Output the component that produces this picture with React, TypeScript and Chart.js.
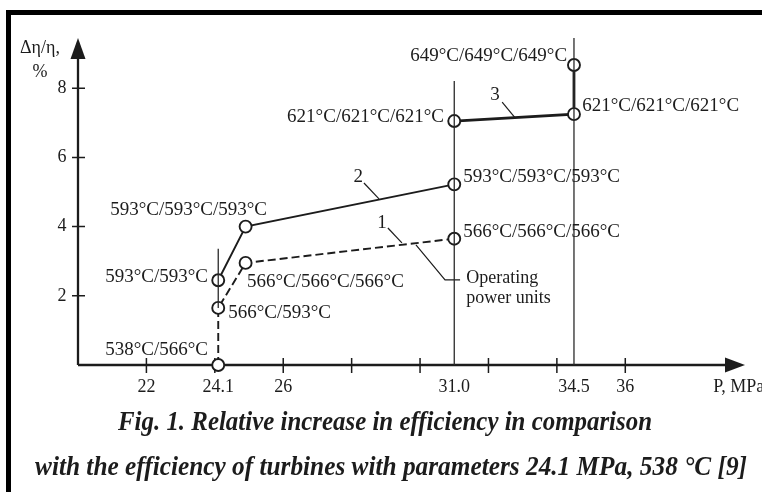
import React, { useEffect, useRef } from "react";
import { Chart, registerables } from "chart.js";

Chart.register(...registerables);

// ---- data ----
// Series 1 (dashed): 538/566 -> 566/593 -> 566/566/566 -> 566/566/566 @31
const s1X = [24.1, 24.1, 24.9, 31.0];
const s1Y = [0, 1.65, 2.95, 3.65];
// Series 2 (solid)
const s2X = [24.1, 24.9, 31.0];
const s2Y = [2.45, 4.0, 5.22];
// Series 3 (thick)
const s3X = [31.0, 34.5, 34.5];
const s3Y = [7.05, 7.25, 8.67];

// Thin vertical reference lines
const refLines = [
  { x: 31.0, y0: 0, y1: 8.21 },
  { x: 34.5, y0: 0, y1: 9.45 },
  { x: 24.1, y0: 1.65, y1: 3.36 },
];

const xTickMarks = [22, 24, 26, 28, 30, 32, 34, 36];
const xTickLabels = ["22", "24.1", "26", "31.0", "34.5", "36"];
const xTickLabelValues = [22, 24.1, 26, 31.0, 34.5, 36];
const yTickValues = [2, 4, 6, 8];

const X_MIN = 20;
const X_MAX = 39.5;
const Y_MIN = 0;
const Y_MAX = 9.45;

// annotation texts
const annTexts = [
  "649°C/649°C/649°C",
  "621°C/621°C/621°C",
  "621°C/621°C/621°C",
  "593°C/593°C/593°C",
  "566°C/566°C/566°C",
  "593°C/593°C/593°C",
  "593°C/593°C",
  "566°C/566°C/566°C",
  "566°C/593°C",
  "538°C/566°C",
  "Operating",
  "power units",
];
const annX = [34.3, 30.7, 34.74, 31.26, 31.26, 20.94, 23.8, 24.94, 24.39, 23.8, 31.35, 31.35];
const annY = [8.93, 7.17, 7.49, 5.43, 3.84, 4.48, 2.54, 2.4, 1.5, 0.43, 2.51, 1.94];
const annAlign = ["right", "right", "left", "left", "left", "left", "right", "left", "left", "right", "left", "left"];

const curveNames = ["1", "2", "3"];
const curveNameX = [28.89, 28.19, 32.19];
const curveNameY = [4.1, 5.43, 7.8];
const leaders = [
  [[29.06, 3.96], [29.47, 3.53]],
  [[28.36, 5.26], [28.8, 4.8]],
  [[32.4, 7.6], [32.78, 7.14]],
  [[29.88, 3.47], [30.73, 2.46], [31.17, 2.46]],
];

const captionLines = [
  "Fig. 1. Relative increase in efficiency in comparison",
  "with the efficiency of turbines with parameters 24.1 MPa, 538 °C [9]",
];

const SERIF = "'Liberation Serif', 'Times New Roman', serif";
const INK = "#1c1c1c";

const toPts = (xs: number[], ys: number[]) => xs.map((x, i) => ({ x, y: ys[i] }));

const overlayPlugin = {
  id: "overlay",
  beforeDatasetsDraw(chart: any) {
    const { ctx, scales } = chart;
    const xs = scales.x;
    const ys = scales.y;
    const x0 = xs.getPixelForValue(X_MIN);
    const y0 = ys.getPixelForValue(0);
    const xEnd = xs.getPixelForValue(X_MAX);
    const yEnd = ys.getPixelForValue(Y_MAX);
    ctx.save();
    ctx.strokeStyle = INK;
    ctx.fillStyle = INK;
    ctx.lineWidth = 2.3;
    ctx.beginPath();
    ctx.moveTo(x0, y0);
    ctx.lineTo(xEnd - 16, y0);
    ctx.moveTo(x0, y0);
    ctx.lineTo(x0, yEnd + 16);
    ctx.stroke();
    // arrows
    ctx.beginPath();
    ctx.moveTo(xEnd, y0);
    ctx.lineTo(xEnd - 20, y0 - 7.5);
    ctx.lineTo(xEnd - 20, y0 + 7.5);
    ctx.closePath();
    ctx.fill();
    ctx.beginPath();
    ctx.moveTo(x0, yEnd);
    ctx.lineTo(x0 - 7.5, yEnd + 21);
    ctx.lineTo(x0 + 7.5, yEnd + 21);
    ctx.closePath();
    ctx.fill();
    // ticks
    ctx.lineWidth = 1.5;
    ctx.beginPath();
    xTickMarks.forEach((v) => {
      const px = xs.getPixelForValue(v);
      ctx.moveTo(px, y0 - 7);
      ctx.lineTo(px, y0 + 8);
    });
    yTickValues.forEach((v) => {
      const py = ys.getPixelForValue(v);
      ctx.moveTo(x0 - 6, py);
      ctx.lineTo(x0 + 7, py);
    });
    ctx.stroke();
    // leaders
    ctx.lineWidth = 1.2;
    leaders.forEach((ln) => {
      ctx.beginPath();
      ln.forEach((p, i) => {
        const px = xs.getPixelForValue(p[0]);
        const py = ys.getPixelForValue(p[1]);
        if (i === 0) ctx.moveTo(px, py);
        else ctx.lineTo(px, py);
      });
      ctx.stroke();
    });
    ctx.restore();
  },
  afterDraw(chart: any) {
    const { ctx, scales } = chart;
    const xs = scales.x;
    const ys = scales.y;
    const x0 = xs.getPixelForValue(X_MIN);
    const y0 = ys.getPixelForValue(0);
    ctx.save();
    ctx.fillStyle = INK;
    ctx.textBaseline = "middle";
    // x tick labels
    ctx.font = `18px ${SERIF}`;
    ctx.textAlign = "center";
    xTickLabels.forEach((t, i) => {
      ctx.fillText(t, xs.getPixelForValue(xTickLabelValues[i]), y0 + 22);
    });
    ctx.textAlign = "left";
    ctx.fillText("P, MPa", xs.getPixelForValue(38.57), y0 + 22);
    // y tick labels
    ctx.textAlign = "center";
    yTickValues.forEach((v) => {
      ctx.fillText(String(v), x0 - 16, ys.getPixelForValue(v));
    });
    // y axis title
    ctx.textAlign = "left";
    ctx.fillText("Δη/η,", x0 - 58, ys.getPixelForValue(9.14));
    ctx.textAlign = "center";
    ctx.fillText("%", x0 - 38, ys.getPixelForValue(8.47));
    // annotations
    annTexts.forEach((t, i) => {
      ctx.textAlign = annAlign[i] as CanvasTextAlign;
      ctx.font = i >= 10 ? `18px ${SERIF}` : `19px ${SERIF}`;
      ctx.fillText(t, xs.getPixelForValue(annX[i]), ys.getPixelForValue(annY[i]));
    });
    ctx.font = `19px ${SERIF}`;
    ctx.textAlign = "center";
    curveNames.forEach((t, i) => {
      ctx.fillText(t, xs.getPixelForValue(curveNameX[i]), ys.getPixelForValue(curveNameY[i]));
    });
    // caption
    ctx.font = `italic bold 27px ${SERIF}`;
    ctx.textBaseline = "alphabetic";
    ctx.textAlign = "left";
    const capCenters = [385, 391];
    const capWidths = [534, 712];
    const capBase = [430, 475];
    captionLines.forEach((t, i) => {
      const w = ctx.measureText(t).width;
      const s = capWidths[i] / w;
      ctx.save();
      ctx.translate(capCenters[i] - capWidths[i] / 2, capBase[i]);
      ctx.scale(s, 1);
      ctx.fillText(t, 0, 0);
      ctx.restore();
    });
    ctx.restore();
  },
};

export default function App() {
  const ref = useRef<HTMLCanvasElement | null>(null);
  useEffect(() => {
    if (!ref.current) return;
    const markerCommon = {
      pointRadius: 6,
      pointBorderWidth: 1.9,
      pointBackgroundColor: "#ffffff",
      pointBorderColor: INK,
      showLine: true,
      clip: false as any,
      borderColor: INK,
      tension: 0,
    };
    const refSets = refLines.map((r) => ({
      data: [
        { x: r.x, y: r.y0 },
        { x: r.x, y: r.y1 },
      ],
      showLine: true,
      pointRadius: 0,
      borderWidth: 1.3,
      borderColor: "#2a2a2a",
      clip: false as any,
    }));
    const chart = new Chart(ref.current, {
      type: "scatter",
      data: {
        datasets: [
          ...refSets,
          { ...markerCommon, data: toPts(s1X, s1Y), borderWidth: 1.9, borderDash: [8, 4] },
          { ...markerCommon, data: toPts(s2X, s2Y), borderWidth: 1.9 },
          { ...markerCommon, data: toPts(s3X, s3Y), borderWidth: 2.8 },
        ] as any,
      },
      options: {
        animation: false,
        responsive: false,
        devicePixelRatio: 1,
        layout: { padding: { left: 78, right: 17, top: 38, bottom: 127 } },
        scales: {
          x: { type: "linear", min: X_MIN, max: X_MAX, display: false },
          y: { type: "linear", min: Y_MIN, max: Y_MAX, display: false },
        },
        plugins: { legend: { display: false }, tooltip: { enabled: false } },
        events: [],
      },
      plugins: [overlayPlugin],
    });
    return () => chart.destroy();
  }, []);

  return (
    <div style={{ position: "fixed", left: 0, top: 0, width: 762, height: 492, background: "#fff", overflow: "hidden" }}>
      <div
        style={{
          position: "absolute",
          left: 6,
          top: 10,
          width: 800,
          height: 600,
          borderLeft: "5px solid #000",
          borderTop: "5px solid #000",
        }}
      />
      <canvas ref={ref} width={762} height={492} style={{ position: "absolute", left: 0, top: 0, width: 762, height: 492 }} />
    </div>
  );
}
